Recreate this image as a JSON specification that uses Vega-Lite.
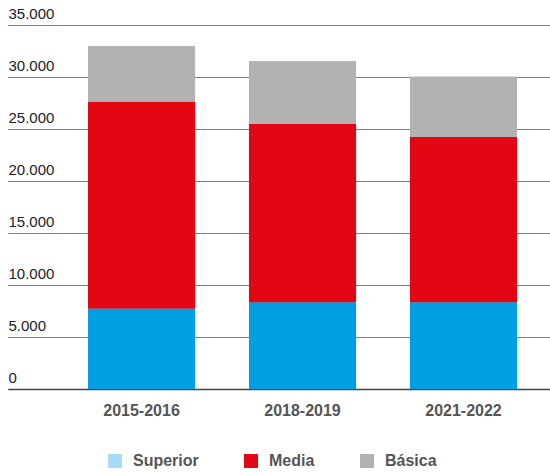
{
  "$schema": "https://vega.github.io/schema/vega-lite/v6.json",
  "width": 542,
  "height": 364,
  "autosize": {"type": "none"},
  "padding": {"left": 8, "top": 25, "right": 0, "bottom": 83},
  "config": {"view": {"stroke": null}, "font": "Liberation Sans"},
  "data": {"values": [
    {"periodo": "2015-2016", "nivel": "Superior", "orden": 1, "valor": 7730},
    {"periodo": "2015-2016", "nivel": "Media", "orden": 2, "valor": 19890},
    {"periodo": "2015-2016", "nivel": "Básica", "orden": 3, "valor": 5340},
    {"periodo": "2018-2019", "nivel": "Superior", "orden": 1, "valor": 8340},
    {"periodo": "2018-2019", "nivel": "Media", "orden": 2, "valor": 17150},
    {"periodo": "2018-2019", "nivel": "Básica", "orden": 3, "valor": 6030},
    {"periodo": "2021-2022", "nivel": "Superior", "orden": 1, "valor": 8340},
    {"periodo": "2021-2022", "nivel": "Media", "orden": 2, "valor": 15900},
    {"periodo": "2021-2022", "nivel": "Básica", "orden": 3, "valor": 5780}
  ]},
  "encoding": {
    "x": {
      "field": "periodo", "type": "nominal", "title": null,
      "scale": {"paddingInner": 0.335, "paddingOuter": 0.351, "align": 0.708},
      "axis": {
        "labelAngle": 0, "ticks": false, "tickSize": 0, "labelPadding": 13,
        "labelFontSize": 16, "labelFontWeight": "bold", "labelColor": "#555555",
        "domainColor": "#444444", "domainWidth": 1.5, "grid": false
      }
    },
    "y": {
      "field": "valor", "type": "quantitative", "aggregate": "sum", "stack": "zero", "title": null,
      "scale": {"domain": [0, 35000], "nice": false},
      "axis": {
        "values": [0, 5000, 10000, 15000, 20000, 25000, 30000, 35000],
        "domain": false, "ticks": false, "tickSize": 0, "labelPadding": 0,
        "labelAlign": "left", "labelBaseline": "alphabetic", "labelOffset": -7,
        "labelFlush": false, "labelFontSize": 15, "labelColor": "#222222",
        "labelExpr": "replace(format(datum.value, ','), ',', '.')",
        "grid": true, "gridColor": "#000000", "gridDash": [1, 1], "gridWidth": 1
      }
    },
    "order": {"field": "orden", "type": "quantitative"}
  },
  "layer": [
    {
      "mark": {"type": "bar"},
      "encoding": {
        "color": {
          "field": "nivel", "type": "nominal",
          "scale": {"domain": ["Superior", "Media", "Básica"], "range": ["#a5dbf6", "#e30613", "#b2b2b2"]},
          "legend": {
            "title": null, "orient": "none", "legendX": 99, "legendY": 428,
            "direction": "horizontal", "symbolType": "square", "symbolSize": 196,
            "symbolStrokeWidth": 0, "labelFontSize": 16, "labelFontWeight": "bold",
            "labelColor": "#555555", "labelOffset": 10, "columnPadding": 44
          }
        }
      }
    },
    {
      "mark": {"type": "bar"},
      "encoding": {
        "fill": {
          "field": "nivel", "type": "nominal",
          "scale": {"domain": ["Superior", "Media", "Básica"], "range": ["#009fe3", "#e30613", "#b2b2b2"]},
          "legend": null
        }
      }
    }
  ]
}
